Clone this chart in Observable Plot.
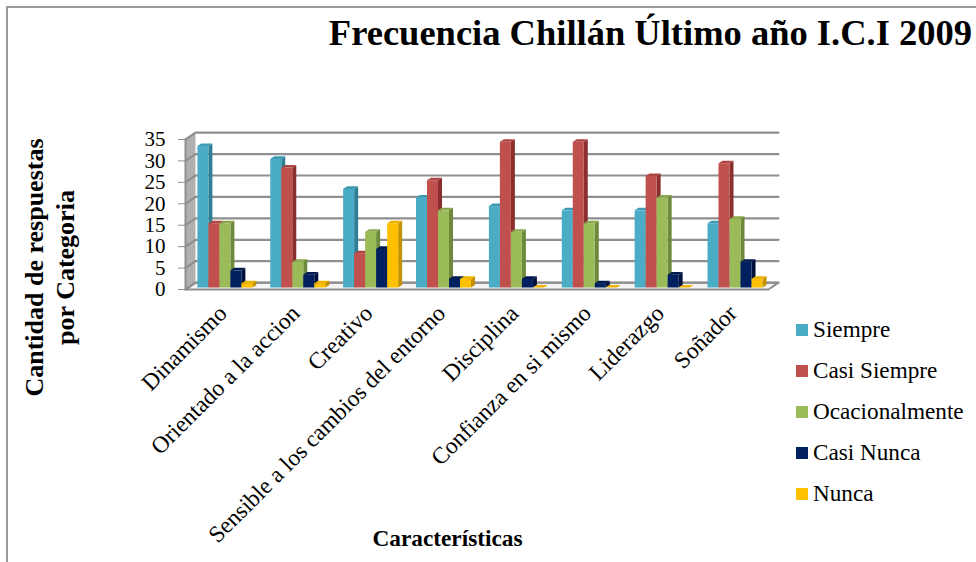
<!DOCTYPE html>
<html><head><meta charset="utf-8">
<script src="https://cdn.jsdelivr.net/npm/d3@7"></script>
<script src="https://cdn.jsdelivr.net/npm/@observablehq/plot@0.6"></script>
<style>
html,body{margin:0;padding:0;background:#fff}
#page{position:relative;width:976px;height:562px;overflow:hidden;font-family:"Liberation Serif",serif;color:#000}
#frame{position:absolute;left:6px;top:6px;right:-5px;bottom:-5px;border-left:2px solid #9a9a9a;border-top:2px solid #9a9a9a}
#title{position:absolute;right:4px;top:11px;font-size:36.5px;font-weight:bold;white-space:nowrap}
#legend{position:absolute;left:796px;top:309px}
.row{display:flex;align-items:center;height:41px;font-size:23.2px;white-space:nowrap}
.sw{width:12px;height:12px;margin-right:5px;flex:none}
svg{position:absolute;left:0;top:0;background:transparent}
</style></head>
<body><div id="page"><div id="frame"></div><div id="title">Frecuencia Chillán Último año I.C.I 2009</div><div id="chart"></div><div id="legend"></div></div>
<script>
const categories = ["Dinamismo","Orientado a la accion","Creativo","Sensible a los cambios del entorno","Disciplina","Confianza en si mismo","Liderazgo","Soñador"];
const series = ["Siempre","Casi Siempre","Ocacionalmente","Casi Nunca","Nunca"];
const siempre = [33,30,23,21,19,18,18,15];
const casiSiempre = [15,28,8,25,34,34,26,29];
const ocacionalmente = [15,6,13,18,13,15,21,16];
const casiNunca = [4,3,9,2,2,1,3,6];
const nunca = [1,1,15,2,0,0,0,2];
const yTicks = [0,5,10,15,20,25,30,35];
const colors = ["#4BACC6","#C0504D","#9BBB59","#002060","#FFC000"];
const topColors = ["#3E9AB3","#AE4441","#8AA84D","#001A50","#EDB200"];
const sideColors = ["#2F7F96","#8A2F2D","#6C8A3A","#00123C","#C49200"];
const values = [siempre,casiSiempre,ocacionalmente,casiNunca,nunca];

// Layout in scale units
const wallDx = 0.137, wallDy = 1.6, barStart = 0.163, barW = 0.151, barDx = 0.055, barDy = 0.6;
const nCat = categories.length, yMax = 35;

const faces = [];
let id = 0;
const poly = (pts, fill) => { id++; pts.forEach(([x,y]) => faces.push({id, x, y, fill})); };
categories.forEach((c,i) => {
  values.forEach((vals,s) => {
    const v = vals[i], x1 = i + barStart + s*barW, x2 = x1 + barW;
    poly([[x2,0],[x2+barDx,barDy],[x2+barDx,v+barDy],[x2,v]], sideColors[s]);
    poly([[x1,v],[x1+barDx,v+barDy],[x2+barDx,v+barDy],[x2,v]], topColors[s]);
    poly([[x1,0],[x2,0],[x2,v],[x1,v]], colors[s]);
  });
});

const wall = [[0,0],[wallDx,wallDy],[wallDx,yMax+wallDy],[0,yMax]].map(([x,y]) => ({x,y}));
const floor = [[0,0],[wallDx,wallDy],[nCat+wallDx,wallDy],[nCat,0],[0,0]].map(([x,y]) => ({x,y}));
const grid = yTicks.flatMap(t => [[0,t],[wallDx,t+wallDy],[nCat+wallDx,t+wallDy]].map(([x,y]) => ({t,x,y})));
const axisEdge = [{x:0,y:0},{x:0,y:yMax}];
const labels = categories.map((name,i) => ({name, x:i+0.5}));
const gridColor = "#8F8F8F";

const chart = Plot.plot({
  width: 976, height: 562,
  marginLeft: 0, marginRight: 0, marginTop: 0, marginBottom: 0,
  style: {fontFamily: '"Liberation Serif", serif', background: "transparent", overflow: "visible"},
  x: {type:"linear", domain:[0,nCat], range:[185,768], axis:null},
  y: {type:"linear", domain:[0,yMax], range:[289,139], axis:null},
  marks: [
    Plot.line(wall, {x:"x", y:"y", fill:"#B0B0B0", stroke:"none"}),
    Plot.line(floor, {x:"x", y:"y", fill:"#F4F4F4", stroke:gridColor, strokeWidth:2}),
    Plot.line(grid, {x:"x", y:"y", z:"t", stroke:gridColor, strokeWidth:2.2}),
    Plot.line(axisEdge, {x:"x", y:"y", stroke:gridColor, strokeWidth:2}),
    Plot.axisY({ticks:yTicks, anchor:"left", x:0, tickSize:7, tickPadding:13, fontSize:21, stroke:gridColor, fill:"#000", label:null, marginLeft:0}),
    Plot.line(faces, {x:"x", y:"y", z:"id", fill:"fill", stroke:"none", dy:-2}),
    Plot.text(labels, {x:"x", y:0, text:"name", rotate:-45, textAnchor:"end", fontSize:23.4, fill:"#000", dx:1, dy:20}),
    Plot.text(["Características"], {frameAnchor:"top-left", dx:447, dy:529, text:d=>d, textAnchor:"middle", fontWeight:"bold", fontSize:23.3, fill:"#000"}),
    Plot.text(["Cantidad de respuestas\npor Categoria"], {frameAnchor:"top-left", dx:20, dy:267, text:d=>d, textAnchor:"middle", rotate:-90, fontWeight:"bold", fontSize:26, lineHeight:1.2, fill:"#000"})
  ]
});
document.getElementById("chart").appendChild(chart);

const legend = document.getElementById("legend");
series.forEach((name,s) => {
  const row = document.createElement("div"); row.className = "row";
  const sw = document.createElement("span"); sw.className = "sw"; sw.style.background = colors[s];
  const t = document.createElement("span"); t.textContent = name;
  row.append(sw,t); legend.append(row);
});
</script></body></html>
